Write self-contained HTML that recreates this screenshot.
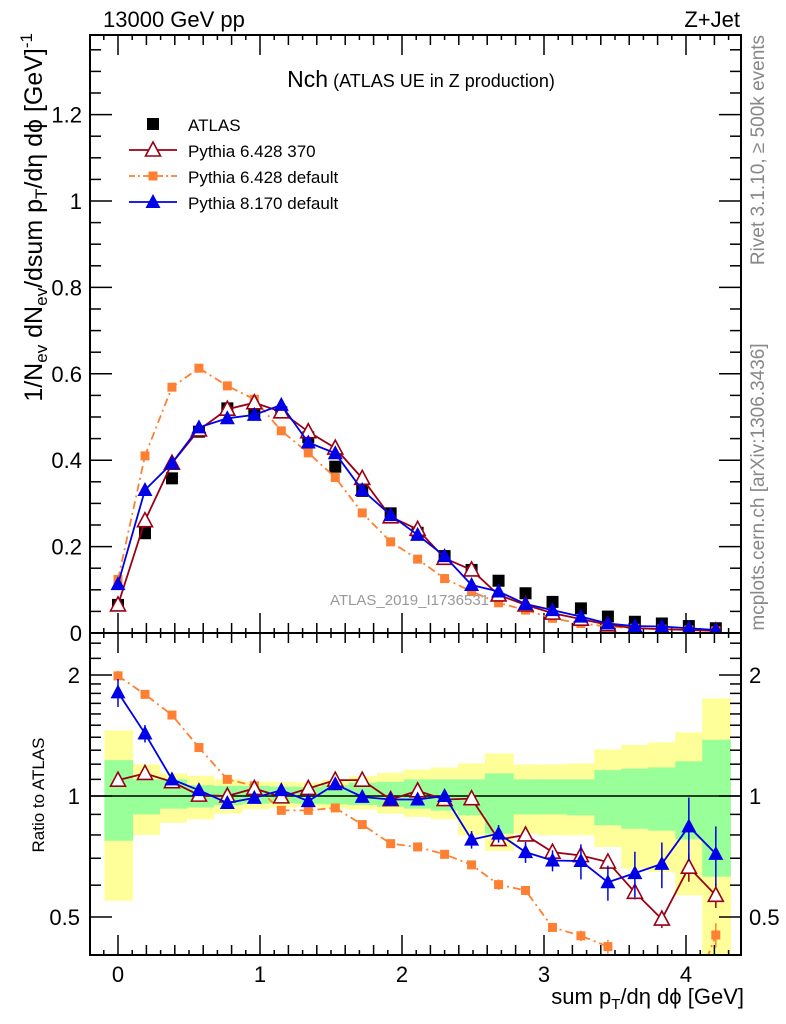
<!DOCTYPE html>
<html><head><meta charset="utf-8"><style>
html,body{margin:0;padding:0;background:#fff;}
svg{display:block;font-family:"Liberation Sans",sans-serif;}
</style></head><body>
<svg id="chart" width="786" height="1024" viewBox="0 0 786 1024" xmlns="http://www.w3.org/2000/svg">
<defs>
<clipPath id="clipMain"><rect x="90" y="35" width="651" height="598"/></clipPath>
<clipPath id="clipRatio"><rect x="90" y="633" width="651" height="322"/></clipPath>
</defs>
<g id="bands" clip-path="url(#clipRatio)"></g>
<g id="grid"></g>
<g id="mainSeries" clip-path="url(#clipMain)"></g>
<g id="ratioSeries" clip-path="url(#clipRatio)"></g>
<rect x="90" y="35" width="651" height="598" fill="none" stroke="#000" stroke-width="2"/>
<rect x="90" y="633" width="651" height="322" fill="none" stroke="#000" stroke-width="2"/>
<text x="103" y="27" font-size="22">13000 GeV pp</text>
<text x="740" y="27" font-size="22" text-anchor="end">Z+Jet</text>
<text x="421" y="87" text-anchor="middle"><tspan font-size="23">Nch</tspan><tspan font-size="18"> (ATLAS UE in Z production)</tspan></text>
<text x="330" y="605" font-size="15" fill="#999">ATLAS_2019_I1736531</text>
<text transform="translate(764,150) rotate(-90)" font-size="19" fill="#888" text-anchor="middle">Rivet 3.1.10, ≥ 500k events</text>
<text transform="translate(764,487) rotate(-90)" font-size="19" fill="#888" text-anchor="middle">mcplots.cern.ch [arXiv:1306.3436]</text>
<text transform="translate(42,33) rotate(-90)" font-size="25" text-anchor="end">1/N<tspan font-size="17" dy="5">ev</tspan><tspan dy="-5"> dN</tspan><tspan font-size="17" dy="5">ev</tspan><tspan dy="-5">/dsum p</tspan><tspan font-size="17" dy="5">T</tspan><tspan dy="-5">/dη dϕ  [GeV]</tspan><tspan font-size="17" dy="-10">-1</tspan></text>
<text transform="translate(44,795) rotate(-90)" font-size="17" text-anchor="middle">Ratio to ATLAS</text>
<text x="744" y="1004" font-size="22" text-anchor="end">sum p<tspan font-size="15" dy="5">T</tspan><tspan dy="-5">/dη dϕ [GeV]</tspan></text>
<g id="legend"></g>
</svg>
<script>
const xVals=[0,0.19,0.38,0.57,0.77,0.96,1.15,1.34,1.53,1.72,1.92,2.11,2.30,2.49,2.68,2.87,3.06,3.26,3.45,3.64,3.83,4.02,4.21];
const atlas=[.065,.231,.358,.466,.520,.512,.511,.453,.385,.329,.277,.232,.178,.146,.121,.092,.072,.057,.038,.026,.022,.016,.011];
const py6370=[.065,.26,.393,.47,.518,.533,.512,.466,.428,.358,.269,.24,.173,.146,.088,.065,.046,.032,.019,.011,.009,.007,.005];
const py6def=[.124,.41,.569,.613,.572,.541,.468,.417,.36,.278,.211,.171,.126,.096,.070,.053,.034,.022,.015,.011,.009,.007,.005];
const py8=[.113,.331,.393,.476,.497,.505,.528,.441,.416,.331,.273,.227,.178,.111,.096,.067,.053,.038,.022,.016,.015,.011,.007];
const rPy6370=[1.095,1.138,1.085,1.005,1.0,1.044,0.995,1.044,1.095,1.095,0.98,1.03,0.98,0.985,0.779,0.80,0.725,0.711,0.685,0.576,0.494,0.665,0.566];
const rPy6def=[1.99,1.79,1.59,1.32,1.10,1.06,0.921,0.921,0.934,0.849,0.761,0.747,0.716,0.674,0.602,0.582,0.471,0.449,0.422,0.3,0.3,0.3,0.451];
const rPy8=[1.81,1.43,1.10,1.034,0.961,0.989,1.034,0.971,1.07,0.995,0.98,0.98,1.0,0.779,0.806,0.725,0.691,0.689,0.61,0.643,0.678,0.84,0.718];
const rPy8Err=[0.08,0.05,0.03,0.03,0.02,0.02,0.03,0.03,0.03,0.03,0.03,0.03,0.03,0.05,0.05,0.06,0.06,0.1,0.1,0.13,0.13,0.18,0.17];
const rPy6370Err=[0.03,0.02,0.02,0.01,0.01,0.01,0.01,0.01,0.01,0.01,0.01,0.01,0.01,0.01,0.03,0.02,0.02,0.03,0.04,0.04,0.05,0.08,0.07];
const yelLo=[0.549,0.80,0.858,0.875,0.904,0.927,0.936,0.94,0.93,0.925,0.904,0.887,0.875,0.798,0.73,0.806,0.798,0.798,0.747,0.66,0.647,0.566,0.3];
const yelHi=[1.457,1.198,1.138,1.123,1.10,1.085,1.085,1.08,1.095,1.12,1.142,1.164,1.178,1.205,1.276,1.198,1.198,1.205,1.306,1.34,1.36,1.44,1.75];
const grnLo=[0.774,0.90,0.93,0.936,0.949,0.957,0.96,0.957,0.953,0.95,0.94,0.93,0.92,0.895,0.806,0.90,0.90,0.895,0.846,0.829,0.82,0.78,0.63];
const grnHi=[1.228,1.10,1.10,1.064,1.06,1.06,1.055,1.053,1.064,1.08,1.085,1.10,1.10,1.10,1.138,1.10,1.10,1.10,1.16,1.17,1.178,1.22,1.38];
const yTicks=[0,0.2,0.4,0.6,0.8,1,1.2];
const yTickLabels=["0","0.2","0.4","0.6","0.8","1","1.2"];
const xTicks=[0,1,2,3,4];
const xTickLabels=["0","1","2","3","4"];
const rTicks=[0.5,1,2];
const rTickLabels=["0.5","1","2"];

const NS="http://www.w3.org/2000/svg";
const X=v=>118+142*v;
const YM=v=>633-432*v;
const YR=r=>796-121*Math.log2(r);
const HALF=0.0957;
function mk(tag,attrs,parent){const e=document.createElementNS(NS,tag);for(const k in attrs)e.setAttribute(k,attrs[k]);parent.appendChild(e);return e;}

const bands=document.getElementById('bands');
xVals.forEach((x,i)=>{
  const y=mk('rect',{x:X(x-HALF),y:YR(yelHi[i]),width:X(x+HALF)-X(x-HALF)+1.5,height:YR(yelLo[i])-YR(yelHi[i]),fill:'#ffff99'},bands);
  
  
});
xVals.forEach((x,i)=>{
  const g=mk('rect',{x:X(x-HALF),y:YR(grnHi[i]),width:X(x+HALF)-X(x-HALF)+1.5,height:YR(grnLo[i])-YR(grnHi[i]),fill:'#99ff99'},bands);
  
  
});

const grid=document.getElementById('grid');
function line(x1,y1,x2,y2,w,p){return mk('line',{x1,y1,x2,y2,stroke:'#000','stroke-width':w||1.5},p||grid);}
for(let k=0;k<=27;k++){const v=k*0.05;const y=YM(v);if(y<36)break;const L=(k%4===0)?22:11;line(90,y,90+L,y);line(741-L,y,741,y);}
yTicks.forEach((v,i)=>{const t=mk('text',{x:82,y:YM(v)+8,'font-size':22,'text-anchor':'end'},grid);t.textContent=yTickLabels[i];});
for(let k=-1;k<=43;k++){const v=k*0.1;const x=X(v);if(x<91||x>740)continue;const L=(k%10===0)?20:(k%2===0?10:5);
  line(x,35,x,35+L);line(x,633,x,633-L);line(x,633,x,633+L);line(x,955,x,955-L);}
xTicks.forEach((v,i)=>{const t=mk('text',{x:X(v),y:982,'font-size':22,'text-anchor':'middle'},grid);t.textContent=xTickLabels[i];});
[0.4,0.5,0.6,0.7,0.8,0.9,1,1.1,1.2,1.3,1.4,1.5,1.6,1.7,1.8,1.9,2,2.2,2.4].forEach(r=>{const y=YR(r);if(y<634||y>954)return;const L=(r===0.5||r===1||r===2)?22:11;line(90,y,90+L,y);line(741-L,y,741,y);});
rTicks.forEach((v,i)=>{const a=mk('text',{x:80,y:YR(v)+8,'font-size':22,'text-anchor':'end'},grid);a.textContent=rTickLabels[i];
  const b=mk('text',{x:749,y:YR(v)+8,'font-size':22},grid);b.textContent=rTickLabels[i];});
const ref=line(90,YR(1),741,YR(1),1.5,document.getElementById('ratioSeries'));



function marker(type,cx,cy,color,p){
  let e;
  if(type==='bigsq'){e=mk('rect',{x:cx-6,y:cy-6,width:12,height:12,fill:'#000'},p);}
  else if(type==='sq'){e=mk('rect',{x:cx-4.5,y:cy-4.5,width:9,height:9,fill:color},p);}
  else if(type==='tri'){e=mk('polygon',{points:`${cx},${cy-8} ${cx-7.5},${cy+6} ${cx+7.5},${cy+6}`,fill:'#fff',stroke:color,'stroke-width':1.6},p);}
  else {e=mk('polygon',{points:`${cx},${cy-8} ${cx-7.5},${cy+6} ${cx+7.5},${cy+6}`,fill:color},p);}
  return e;
}
function series(p,vals,Yf,color,dash,mtype,name,err){
  if(color){const pl=mk('polyline',{points:vals.map((v,i)=>X(xVals[i])+','+Yf(v)).join(' '),fill:'none',stroke:color,'stroke-width':1.8},p);
    if(dash)pl.setAttribute('stroke-dasharray',dash);
    
    }
  vals.forEach((v,i)=>{
    if(err){const e=mk('line',{x1:X(xVals[i]),x2:X(xVals[i]),y1:Yf(v*(1+err[i])),y2:Yf(Math.max(v*(1-err[i]),0.01)),stroke:color,'stroke-width':1.5},p);
      
      }
    const m=marker(mtype,X(xVals[i]),Yf(v),color||'#000',p);
    
    
  });
}
const mg=document.getElementById('mainSeries');
series(mg,atlas,YM,null,null,'bigsq','atlas');
series(mg,py6def,YM,'#ff8033','8,4,2,4','sq','pythia6-default');
series(mg,py6370,YM,'#990016',null,'tri','pythia6-370');
series(mg,py8,YM,'#0000e6',null,'ftri','pythia8');
const rg=document.getElementById('ratioSeries');
series(rg,rPy6def,YR,'#ff8033','8,4,2,4','sq','ratio-pythia6-default',rPy6370Err);
series(rg,rPy6370,YR,'#990016',null,'tri','ratio-pythia6-370',rPy6370Err);
series(rg,rPy8,YR,'#0000e6',null,'ftri','ratio-pythia8',rPy8Err);

const lg=document.getElementById('legend');
const legItems=[["ATLAS",null,null,'bigsq',124],["Pythia 6.428 370",'#990016',null,'tri',150],["Pythia 6.428 default",'#ff8033','6,3,2,3','sq',176],["Pythia 8.170 default",'#0000e6',null,'ftri',202]];
legItems.forEach(([lab,c,d,m,y])=>{
  const g=mk('g',{},lg);
  
  
  if(c){const l=mk('line',{x1:129,x2:177,y1:y,y2:y,stroke:c,'stroke-width':1.8},g);if(d)l.setAttribute('stroke-dasharray',d);}
  marker(m,153,y,c||'#000',g);
  const t=mk('text',{x:188,y:y+7,'font-size':17},g);t.textContent=lab;
});
</script>
</body></html>
